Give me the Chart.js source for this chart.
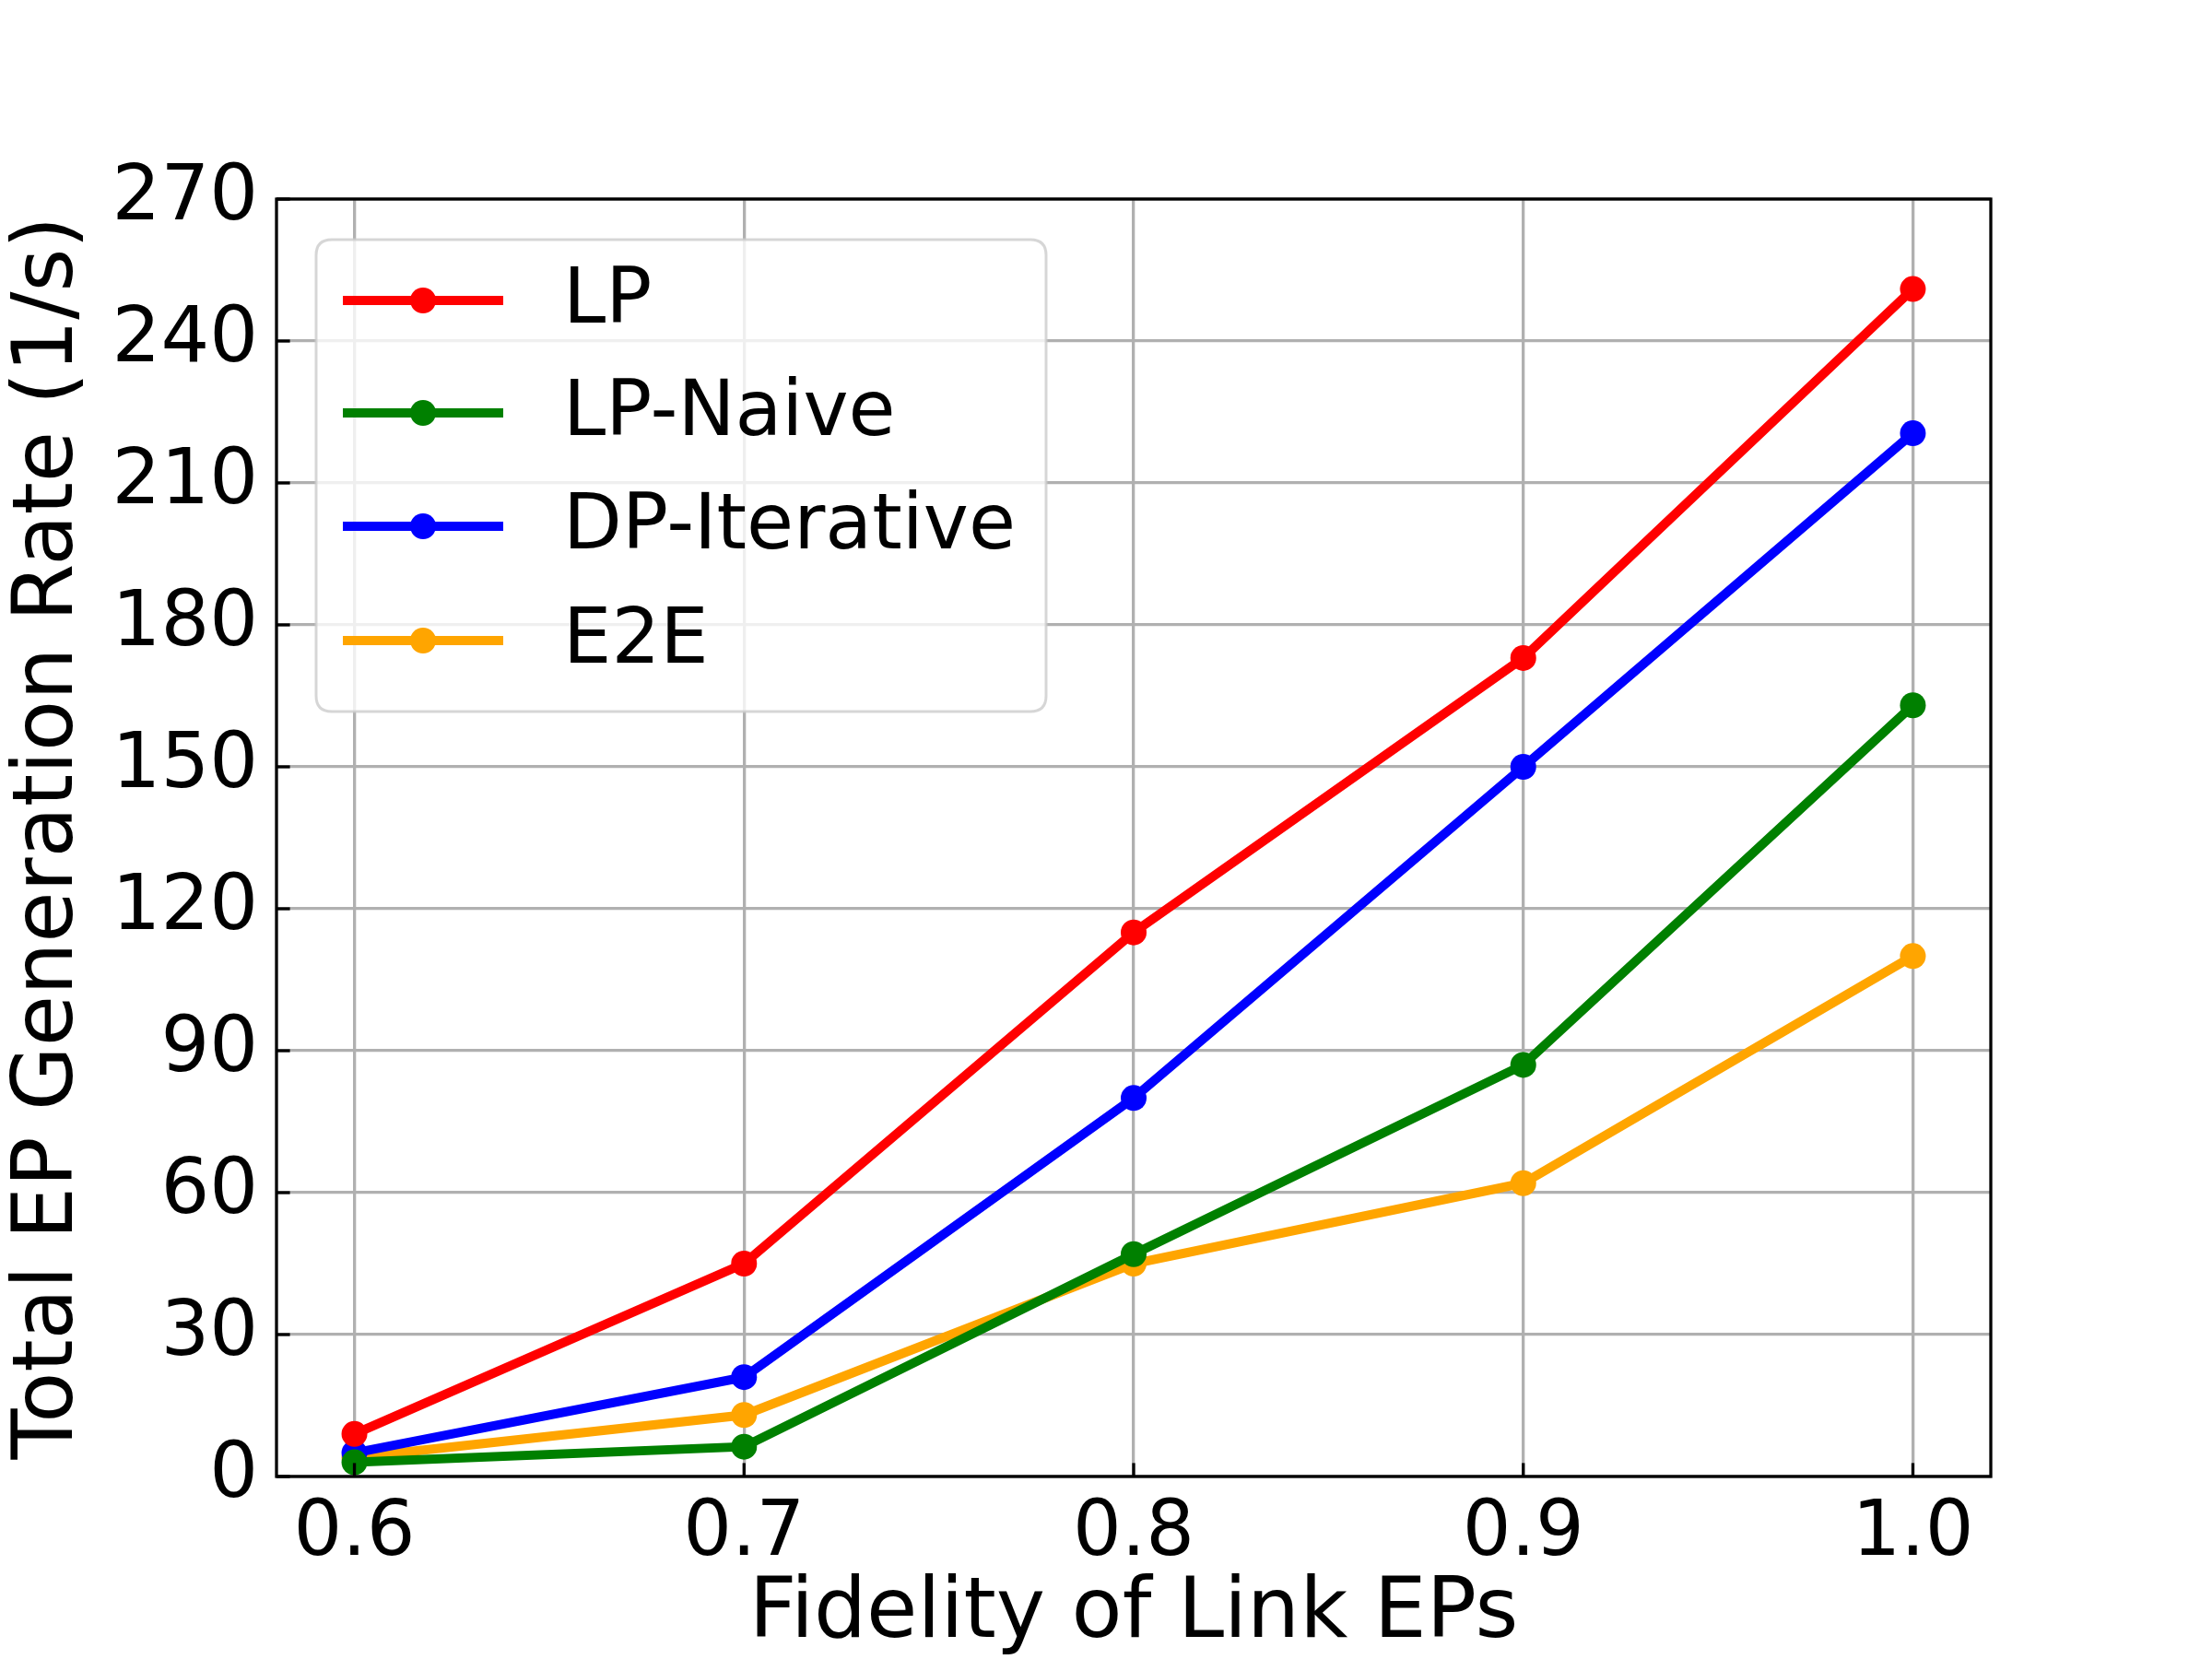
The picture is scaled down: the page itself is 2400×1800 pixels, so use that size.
<!DOCTYPE html>
<html>
<head>
<meta charset="utf-8">
<script src="https://cdn.jsdelivr.net/npm/chart.js@4/dist/chart.umd.min.js"></script>
<style>
html,body{margin:0;padding:0;background:#fff;}
#wrap{width:2400px;height:1800px;position:relative;}
</style>
</head>
<body>
<div id="wrap"><canvas id="c" width="2400" height="1800"></canvas></div>
<script>
const fidelity = [0.6, 0.7, 0.8, 0.9, 1.0];
const lpValues = [9, 45, 115, 173, 251];
const lpNaiveValues = [3, 6.3, 47, 87, 163];
const dpIterativeValues = [5, 21, 80, 150, 220.5];
const e2eValues = [4, 13, 45, 62, 110];
const xTickValues = [0.6, 0.7, 0.8, 0.9, 1.0];
const yTickValues = [0, 30, 60, 90, 120, 150, 180, 210, 240, 270];
const seriesNames = ['LP', 'LP-Naive', 'DP-Iterative', 'E2E'];
const seriesColors = ['#ff0000', '#008000', '#0000ff', '#ffa500'];
const xTitle = 'Fidelity of Link EPs';
const yTitle = 'Total EP Generation Rate (1/s)';

const FONT = 'DejaVu Sans';
const FS = 83;
const TFS = 90;
const LW = 10;
const MR = 14;

const allSeries = [lpValues, lpNaiveValues, dpIterativeValues, e2eValues];
const datasets = allSeries.map((vals, i) => ({
  label: seriesNames[i],
  data: fidelity.map((x, j) => ({x: x, y: vals[j]})),
  borderColor: seriesColors[i],
  backgroundColor: seriesColors[i],
  borderWidth: LW,
  pointRadius: MR,
  pointHoverRadius: MR,
  pointBorderWidth: 0,
  pointBackgroundColor: seriesColors[i],
  tension: 0,
  fill: false,
  order: i
}));

const framePlugin = {
  id: 'frame',
  afterDraw(chart) {
    const ctx = chart.ctx;
    const a = chart.chartArea;
    const xs = chart.scales.x, ys = chart.scales.y;
    ctx.save();
    // inward ticks
    ctx.strokeStyle = '#000';
    ctx.lineWidth = 3.3;
    const tl = 14.6;
    xTickValues.forEach(v => {
      const px = xs.getPixelForValue(v);
      ctx.beginPath(); ctx.moveTo(px, a.bottom); ctx.lineTo(px, a.bottom - tl); ctx.stroke();
    });
    yTickValues.forEach(v => {
      const py = ys.getPixelForValue(v);
      ctx.beginPath(); ctx.moveTo(a.left, py); ctx.lineTo(a.left + tl, py); ctx.stroke();
    });
    // spines
    ctx.strokeRect(a.left, a.top, a.right - a.left, a.bottom - a.top);

    // legend
    const bx = 343, by = 260, bw = 792, bh = 512, r = 17;
    ctx.beginPath();
    ctx.moveTo(bx + r, by);
    ctx.lineTo(bx + bw - r, by);
    ctx.quadraticCurveTo(bx + bw, by, bx + bw, by + r);
    ctx.lineTo(bx + bw, by + bh - r);
    ctx.quadraticCurveTo(bx + bw, by + bh, bx + bw - r, by + bh);
    ctx.lineTo(bx + r, by + bh);
    ctx.quadraticCurveTo(bx, by + bh, bx, by + bh - r);
    ctx.lineTo(bx, by + r);
    ctx.quadraticCurveTo(bx, by, bx + r, by);
    ctx.closePath();
    ctx.fillStyle = 'rgba(255,255,255,0.8)';
    ctx.fill();
    ctx.strokeStyle = 'rgba(204,204,204,0.8)';
    ctx.lineWidth = 3;
    ctx.stroke();

    const rowY = [326, 448, 571, 695];
    seriesNames.forEach((name, i) => {
      const y = rowY[i];
      ctx.strokeStyle = seriesColors[i];
      ctx.lineWidth = LW;
      ctx.lineCap = 'butt';
      ctx.beginPath(); ctx.moveTo(372, y); ctx.lineTo(546, y); ctx.stroke();
      ctx.fillStyle = seriesColors[i];
      ctx.beginPath(); ctx.arc(459, y, MR, 0, Math.PI * 2); ctx.fill();
      ctx.fillStyle = '#000';
      ctx.font = FS + 'px "' + FONT + '"';
      ctx.textAlign = 'left';
      ctx.textBaseline = 'middle';
      ctx.fillText(name, 611, y + 2);
    });
    ctx.restore();
  }
};

new Chart(document.getElementById('c'), {
  type: 'line',
  data: { datasets },
  options: {
    responsive: false,
    animation: false,
    devicePixelRatio: 1,
    layout: { padding: { left: 0, top: 216, right: 240, bottom: 0 } },
    plugins: { legend: { display: false }, tooltip: { enabled: false } },
    scales: {
      x: {
        type: 'linear',
        min: 0.58,
        max: 1.02,
        afterBuildTicks: s => { s.ticks = xTickValues.map(v => ({value: v})); },
        afterFit: s => { s.height = 198; },
        ticks: {
          font: { family: FONT, size: FS },
          color: '#000',
          padding: 14,
          maxRotation: 0,
          autoSkip: false,
          callback: v => Number(v).toFixed(1)
        },
        grid: { color: '#b0b0b0', lineWidth: 3.3, drawTicks: false },
        border: { display: false },
        title: {
          display: true,
          text: xTitle,
          font: { family: FONT, size: TFS },
          color: '#000',
          padding: { top: 0, bottom: -7 }
        }
      },
      y: {
        type: 'linear',
        min: 0,
        max: 270,
        afterBuildTicks: s => { s.ticks = yTickValues.map(v => ({value: v})); },
        afterFit: s => { s.width = 300; },
        ticks: {
          font: { family: FONT, size: FS },
          color: '#000',
          padding: 20,
          autoSkip: false,
          callback: v => String(v)
        },
        grid: { color: '#b0b0b0', lineWidth: 3.3, drawTicks: false },
        border: { display: false },
        title: {
          display: true,
          text: yTitle,
          font: { family: FONT, size: TFS },
          color: '#000',
          padding: { top: 1, bottom: 0 }
        }
      }
    }
  },
  plugins: [framePlugin]
});
</script>
</body>
</html>
